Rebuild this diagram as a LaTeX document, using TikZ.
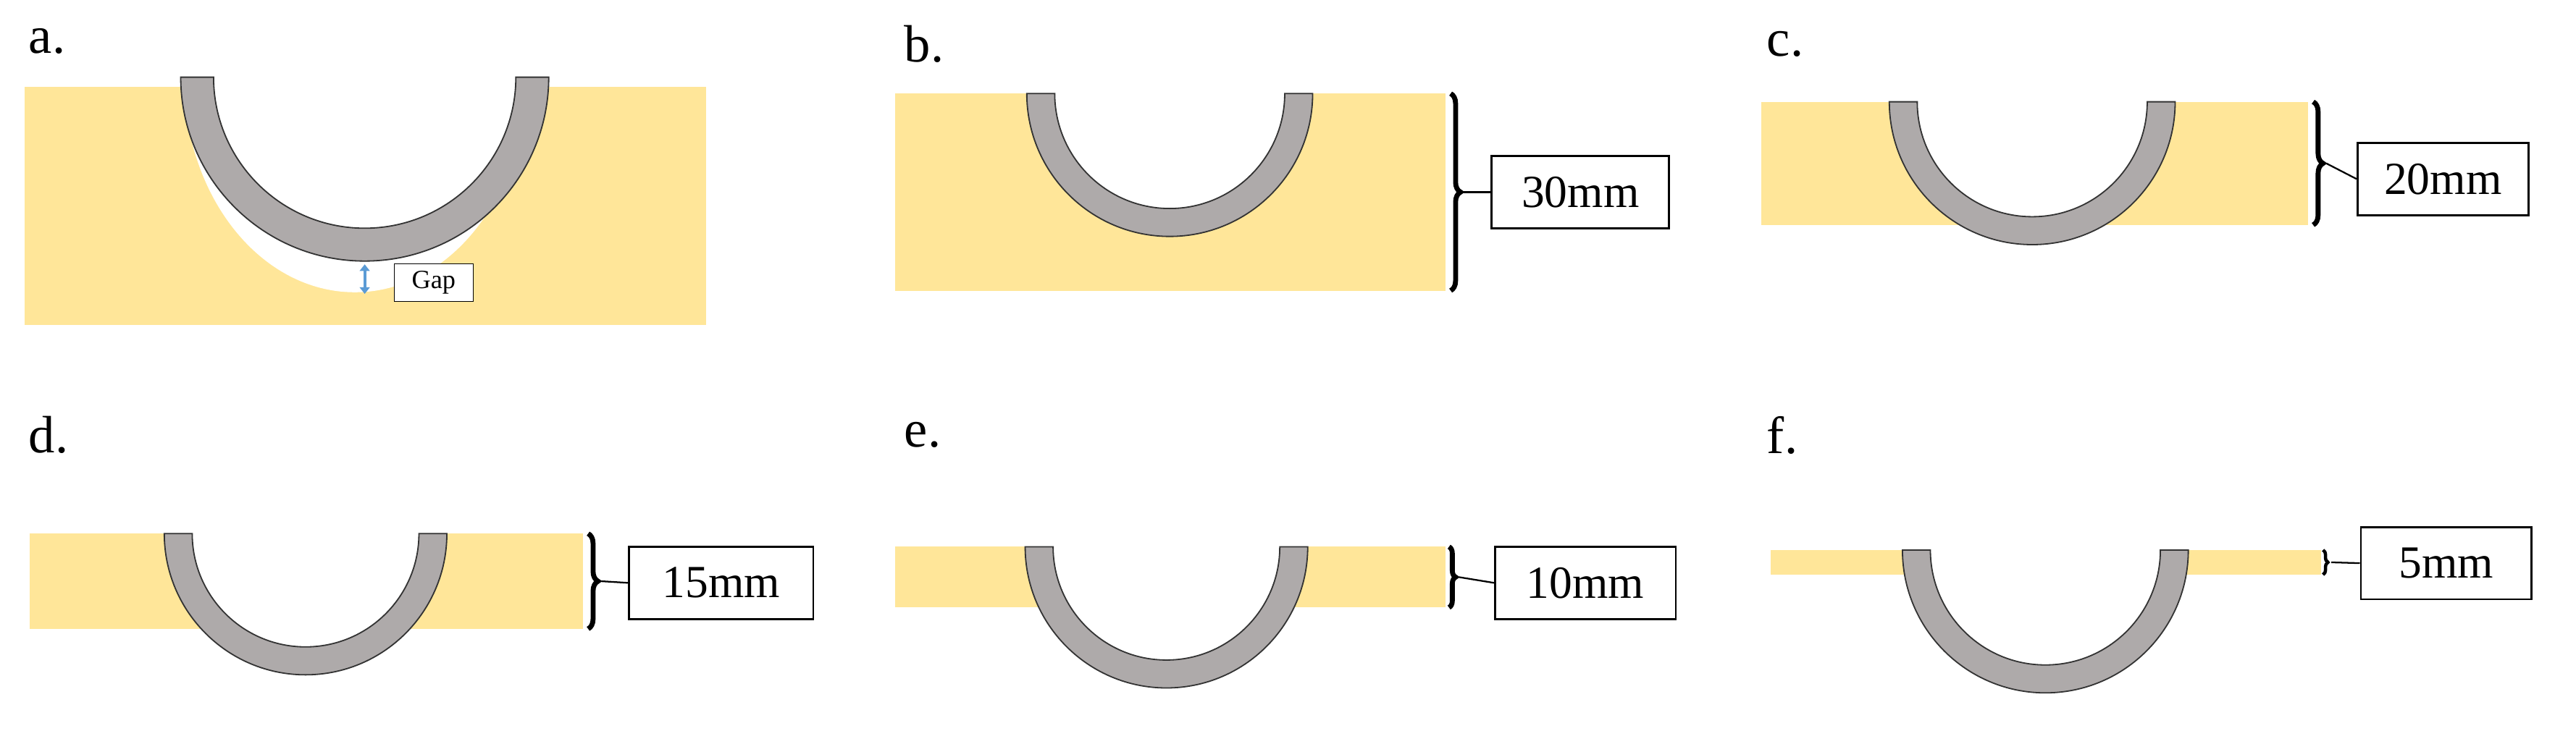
\documentclass[tikz,border=0pt]{standalone}
\usepackage{fontspec}
\setmainfont{Liberation Serif}
\usetikzlibrary{decorations.pathreplacing,arrows.meta}
\definecolor{foam}{HTML}{FFE699}
\definecolor{ringg}{HTML}{AEAAAA}
\definecolor{gapblue}{HTML}{5B9BD5}
\tikzset{
  foamrect/.style={fill=foam},
  ringshape/.style={fill=ringg,draw=black!80,line width=0.8pt},
  dimbox/.style={draw=black,line width=1.2pt,fill=white,font=\fontsize{28}{30}\selectfont,minimum height=44pt,inner sep=6pt},
  panellabel/.style={font=\fontsize{32}{34}\selectfont,anchor=west},
  bracestyle/.style={decorate,decoration={brace,amplitude=6pt},line width=3pt},
  conn/.style={line width=1pt}
}
\newcommand{\ringat}[4]{% cx, ytop, R, r
  \fill[white] (#1,#2) circle[radius=#4];
  \draw[ringshape] (#1-#3,#2) arc (180:360:#3) -- (#1+#4,#2) arc (0:-180:#4) -- cycle;}
\begin{document}
\begin{tikzpicture}[x=1pt,y=1pt]
\useasboundingbox (0,0) rectangle (1568,445);
% a
\node[panellabel] (la) at (14,420) {a.};
\fill[foamrect] (15,247) rectangle (430,392);
\fill[white] (216,398) ellipse (104 and 131);
\ringat{222}{398}{112}{92}
\node[draw=black,fill=white,font=\fontsize{16}{18}\selectfont,inner sep=3pt,minimum height=23pt,minimum width=48pt] (gap) at (264,273) {Gap};
\coordinate (g1) at (222,284);
\coordinate (g2) at (222,266);
\draw[gapblue,line width=1.8pt,{Triangle[length=4pt,width=6pt]}-{Triangle[length=4pt,width=6pt]}] (g1) -- (g2);
% b
\node[panellabel] (lb) at (547,418) {b.};
\fill[foamrect] (545,268) rectangle (880,388);
\ringat{712}{388}{87}{70}
\draw[bracestyle] (883,388) -- (883,268) coordinate[midway,xshift=8pt] (bb);
\node[dimbox,minimum width=108pt] (boxb) at (962,328) {30mm};
\draw[conn] (bb) -- (boxb.west);
% c
\node[panellabel] (lc) at (1072,418) {c.};
\fill[foamrect] (1072,308) rectangle (1405,383);
\ringat{1237}{383}{87}{70}
\draw[bracestyle] (1408,383) -- (1408,308) coordinate[midway,xshift=8pt] (bc);
\node[dimbox,minimum width=104pt] (boxc) at (1487,336) {20mm};
\draw[conn] (bc) -- (boxc.west);
% d
\node[panellabel] (ld) at (14,180) {d.};
\fill[foamrect] (18,62) rectangle (355,120);
\ringat{186}{120}{86}{69}
\draw[bracestyle] (358,120) -- (358,62) coordinate[midway,xshift=8pt] (bd);
\node[dimbox,minimum width=112pt] (boxd) at (439,90) {15mm};
\draw[conn] (bd) -- (boxd.west);
% e
\node[panellabel] (le) at (547,180) {e.};
\fill[foamrect] (545,75) rectangle (880,112);
\ringat{710}{112}{86}{69}
\draw[bracestyle,decoration={brace,amplitude=4pt}] (882,112) -- (882,75) coordinate[midway,xshift=6pt] (be);
\node[dimbox,minimum width=110pt] (boxe) at (965,90) {10mm};
\draw[conn] (be) -- (boxe.west);
% f
\node[panellabel] (lf) at (1072,180) {f.};
\fill[foamrect] (1078,95) rectangle (1413,110);
\ringat{1245}{110}{87}{70}
\draw[bracestyle,decoration={brace,amplitude=3pt},line width=2pt] (1414,110) -- (1414,95) coordinate[midway,xshift=5pt] (bf);
\node[dimbox,minimum width=104pt] (boxf) at (1489,102) {5mm};
\draw[conn] (bf) -- (boxf.west);
\end{tikzpicture}
\end{document}
